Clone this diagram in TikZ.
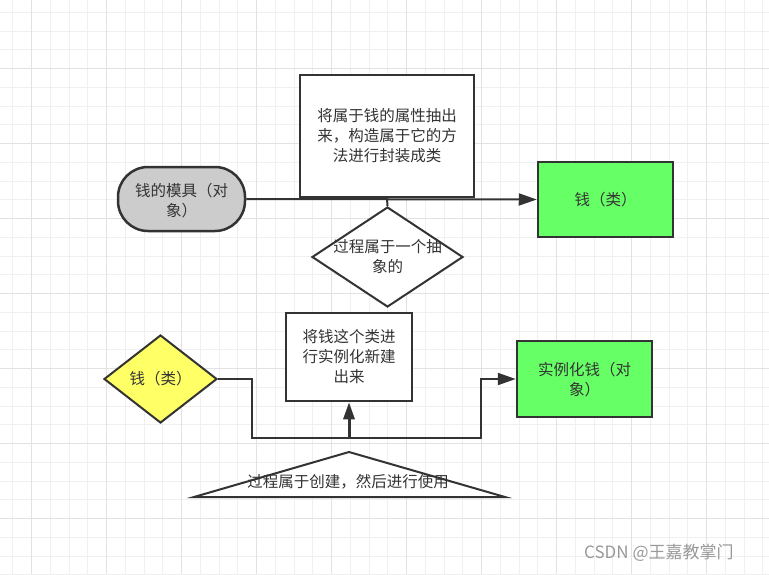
\documentclass[tikz,border=0pt]{standalone}
\usepackage{fontspec}
\setmainfont{Noto Sans CJK SC}
\usetikzlibrary{shapes.geometric,arrows.meta}
\definecolor{ink}{HTML}{333333}
\definecolor{gminor}{HTML}{F0F0F0}
\definecolor{gmajor}{HTML}{E2E2E2}
\definecolor{moldgray}{HTML}{CCCCCC}
\definecolor{lgreen}{HTML}{66FF66}
\definecolor{lyellow}{HTML}{FFFF66}
\tikzset{
  box/.style={draw=ink, line width=2.5pt, inner sep=0pt, rectangle},
  txt/.style={text=ink, align=center, font=\fontsize{15.5pt}{20pt}\selectfont, inner sep=0pt},
  conn/.style={draw=ink, line width=2pt},
  tip/.style={-{Triangle[length=18pt,width=12pt]}},
}
\begin{document}
\begin{tikzpicture}[x=1pt,y=-1pt]
\useasboundingbox (0,0) rectangle (769,574);
\fill[white] (0,0) rectangle (769,574);
% grid
\foreach \k in {0,...,41} {
  \draw[gminor, line width=1pt] ({12.9+18.75*\k},0) -- ({12.9+18.75*\k},574);
}
\foreach \k in {0,...,30} {
  \draw[gminor, line width=1pt] (0,{12.3+18.75*\k}) -- (769,{12.3+18.75*\k});
}
\foreach \k in {0,...,10} {
  \draw[gmajor, line width=1pt] ({31.7+75*\k},0) -- ({31.7+75*\k},574);
}
\foreach \k in {-1,...,7} {
  \draw[gmajor, line width=1pt] (0,{68.5+75*\k}) -- (769,{68.5+75*\k});
}

% top part
\node[box, fill=white, minimum width=174pt, minimum height=122pt] (enc) at (387,136) {};
\node[txt] at (enc.center) {将属于钱的属性抽出\\来，构造属于它的方\\法进行封装成类};

\node[box, fill=moldgray, rounded corners=30pt, minimum width=127pt, minimum height=64pt] (mold) at (181.5,199) {};
\node[txt] at (181.5,200.5) {钱的模具（对\\象）};

\node[box, fill=lgreen, minimum width=135pt, minimum height=75pt] (cls) at (605.5,199.5) {};
\node[txt] at (cls.center) {钱（类）};

\node[draw=ink, line width=2pt, shape=diamond, fill=white, inner sep=0pt, minimum width=151pt, minimum height=100pt] (abs) at (387.5,257) {};
\node[txt] at (abs.center) {过程属于一个抽\\象的};

\draw[conn, tip] (mold.east) -- (cls.west);
\draw[conn] (enc.south) -- (abs.north);

% bottom part
\node[box, fill=white, minimum width=126pt, minimum height=88pt] (inst) at (349,357) {};
\node[txt] at (inst.center) {将钱这个类进\\行实例化新建\\出来};

\node[draw=ink, line width=2pt, shape=diamond, fill=lyellow, inner sep=0pt, minimum width=113pt, minimum height=88pt] (yd) at (160.5,379) {};
\node[txt] at (yd.center) {钱（类）};

\node[box, fill=lgreen, minimum width=135pt, minimum height=76pt] (obj) at (584.5,379) {};
\node[txt] at (584.5,380) {实例化钱（对\\象）};

\coordinate (apex) at (349,452);
\coordinate (tl) at (194,497);
\coordinate (tr) at (505,497);
\draw[draw=ink, line width=2pt, fill=white, line join=miter] (tl) -- (apex) -- (tr) -- cycle;
\node[txt] (trit) at (348,482) {过程属于创建，然后进行使用};

\coordinate (jl) at (252,438);
\coordinate (jm) at (349,438);
\coordinate (jr) at (481,438);
\draw[conn, tip] (yd.east) -| (jl) -- (jr) |- (obj.west);
\draw[draw=ink, line width=3pt, -{Triangle[length=17pt,width=11pt]}] (jm) -- (inst.south);

% watermark
\node[text=black!40, font=\fontsize{17pt}{19pt}\selectfont, inner sep=0pt, anchor=west] (wm) at (584,553) {CSDN @王嘉教掌门};
\end{tikzpicture}
\end{document}
